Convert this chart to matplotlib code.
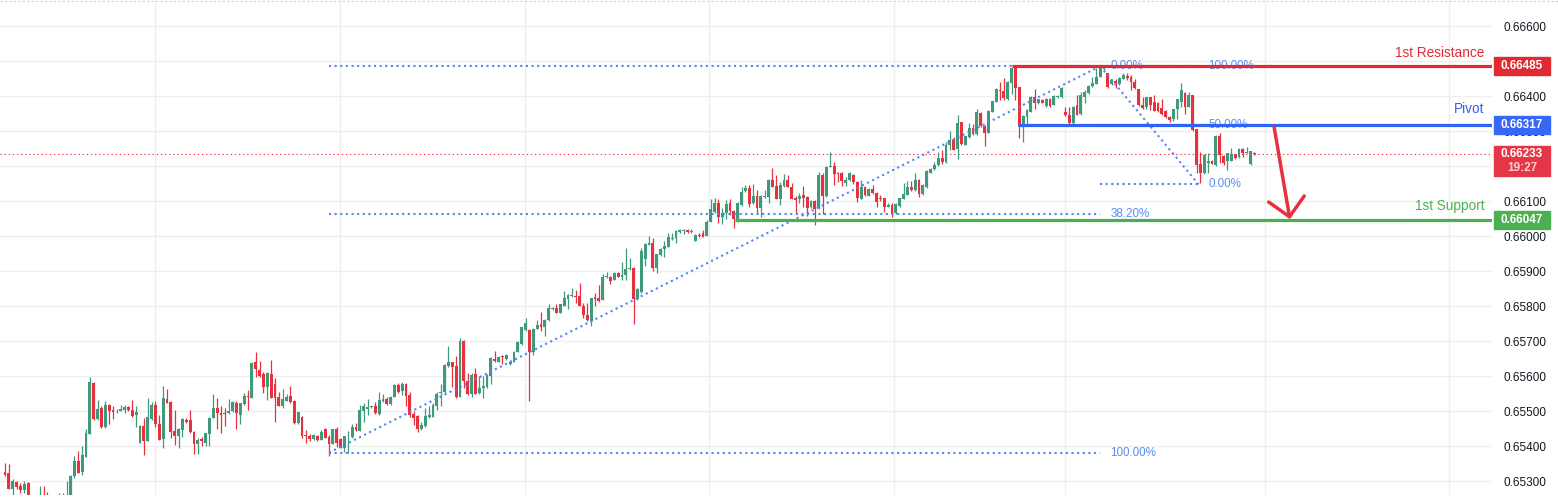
import numpy as np
import matplotlib.pyplot as plt
import matplotlib.transforms as mtransforms
from matplotlib.patches import Rectangle

# AUDUSD-style 15m candles, prices in 1e-5 units
opens = [
    65326, 65323, 65278, 65297, 65286, 65273, 65295, 65256, 65240, 65235,
    65250, 65240, 65232, 65228, 65235, 65245, 65252, 65258, 65314, 65357,
    65327, 65370, 65435, 65581, 65476, 65508, 65453, 65517, 65503, 65499,
    65501, 65503, 65512, 65503, 65489, 65410, 65457, 65415, 65477, 65517,
    65463, 65421, 65534, 65526, 65443, 65430, 65447, 65475, 65475, 65440,
    65407, 65420, 65410, 65435, 65481, 65509, 65495, 65495, 65493, 65500,
    65523, 65490, 65519, 65543, 65538, 65640, 65616, 65607, 65570, 65606,
    65578, 65540, 65515, 65530, 65543, 65529, 65466, 65483, 65431, 65429,
    65420, 65430, 65418, 65449, 65426, 65407, 65448, 65420, 65395, 65426,
    65425, 65454, 65444, 65500, 65505, 65511, 65514, 65492, 65529, 65535,
    65519, 65541, 65574, 65556, 65578, 65547, 65491, 65486, 65449, 65458,
    65482, 65484, 65513, 65551, 65554, 65629, 65639, 65629, 65541, 65700,
    65586, 65549, 65606, 65551, 65565, 65570, 65600, 65648, 65641, 65656,
    65648, 65633, 65641, 65670, 65691, 65732, 65732, 65670, 65735, 65749,
    65741, 65760, 65792, 65793, 65781, 65801, 65821, 65829, 65829, 65829,
    65801, 65775, 65756, 65825, 65823, 65818, 65882, 65884, 65875, 65895,
    65884, 65890, 65905, 65909, 65821, 65840, 65933, 65975, 65980, 65908,
    65946, 65962, 65970, 65991, 65993, 66011, 66014, 66018, 66011, 65987,
    66004, 66009, 66001, 66041, 66069, 66093, 66053, 66066, 66094, 66071,
    66044, 66089, 66128, 66137, 66094, 66114, 66081, 66112, 66112, 66160,
    66143, 66106, 66143, 66160, 66141, 66108, 66106, 66117, 66111, 66083,
    66100, 66080, 66175, 66114, 66198, 66200, 66181, 66179, 66152, 66160,
    66174, 66154, 66106, 66140, 66115, 66134, 66124, 66108, 66108, 66084,
    66088, 66065, 66085, 66106, 66118, 66141, 66131, 66160, 66120, 66139,
    66181, 66191, 66203, 66224, 66211, 66260, 66274, 66249, 66325, 66261,
    66282, 66308, 66291, 66351, 66314, 66295, 66355, 66383, 66417, 66414,
    66391, 66436, 66482, 66425, 66314, 66339, 66355, 66398, 66379, 66389,
    66371, 66392, 66375, 66396, 66396, 66355, 66346, 66322, 66373, 66350,
    66398, 66408, 66429, 66435, 66455, 66477, 66465, 66433, 66444, 66433,
    66450, 66457, 66455, 66441, 66419, 66374, 66370, 66396, 66383, 66379,
    66365, 66358, 66341, 66335, 66362, 66384, 66410, 66370, 66402, 66305,
    66206, 66179, 66209, 66214, 66203, 66286, 66229, 66213, 66214, 66233,
    66225, 66250, 66238, 66205, 66238,
]
highs = [
    65352, 65349, 65305, 65300, 65295, 65300, 65298, 65258, 65250, 65287,
    65287, 65270, 65245, 65250, 65266, 65266, 65301, 65317, 65372, 65386,
    65400, 65449, 65597, 65584, 65532, 65515, 65529, 65520, 65513, 65505,
    65518, 65518, 65514, 65532, 65514, 65460, 65479, 65537, 65527, 65529,
    65489, 65572, 65563, 65528, 65503, 65451, 65479, 65481, 65503, 65442,
    65424, 65426, 65438, 65484, 65549, 65537, 65514, 65509, 65534, 65529,
    65528, 65524, 65551, 65560, 65640, 65669, 65643, 65611, 65611, 65646,
    65594, 65554, 65563, 65549, 65572, 65531, 65498, 65485, 65446, 65435,
    65434, 65432, 65446, 65451, 65431, 65450, 65453, 65422, 65430, 65444,
    65463, 65465, 65516, 65522, 65535, 65515, 65527, 65553, 65548, 65541,
    65543, 65576, 65581, 65584, 65580, 65555, 65499, 65488, 65470, 65508,
    65513, 65524, 65553, 65578, 65634, 65686, 65641, 65656, 65709, 65703,
    65608, 65608, 65624, 65599, 65599, 65606, 65654, 65672, 65657, 65659,
    65662, 65643, 65671, 65699, 65740, 65766, 65734, 65737, 65760, 65783,
    65762, 65805, 65796, 65806, 65807, 65843, 65834, 65851, 65846, 65866,
    65808, 65810, 65824, 65836, 65860, 65892, 65897, 65886, 65897, 65897,
    65927, 65966, 65938, 65911, 65851, 65966, 65979, 66001, 65995, 65950,
    65965, 65986, 66008, 66010, 66016, 66019, 66020, 66020, 66019, 66006,
    66008, 66017, 66046, 66107, 66108, 66107, 66079, 66103, 66107, 66073,
    66096, 66139, 66145, 66145, 66150, 66131, 66116, 66131, 66162, 66194,
    66174, 66155, 66176, 66174, 66152, 66114, 66124, 66143, 66113, 66102,
    66103, 66183, 66179, 66200, 66239, 66211, 66183, 66182, 66169, 66184,
    66176, 66156, 66159, 66142, 66136, 66145, 66125, 66117, 66110, 66093,
    66093, 66093, 66110, 66152, 66158, 66156, 66179, 66162, 66148, 66188,
    66194, 66211, 66239, 66245, 66269, 66301, 66283, 66345, 66327, 66287,
    66323, 66320, 66364, 66353, 66316, 66359, 66387, 66422, 66441, 66451,
    66442, 66481, 66486, 66427, 66345, 66362, 66400, 66419, 66392, 66391,
    66394, 66394, 66403, 66402, 66427, 66370, 66370, 66372, 66403, 66412,
    66417, 66431, 66455, 66479, 66482, 66486, 66467, 66448, 66448, 66453,
    66465, 66465, 66460, 66448, 66421, 66398, 66398, 66398, 66404, 66384,
    66391, 66360, 66343, 66364, 66392, 66438, 66411, 66412, 66404, 66307,
    66241, 66233, 66236, 66216, 66289, 66295, 66231, 66238, 66251, 66235,
    66252, 66252, 66255, 66244, 66240,
]
lows = [
    65313, 65276, 65260, 65277, 65265, 65265, 65246, 65232, 65225, 65228,
    65232, 65222, 65220, 65222, 65230, 65238, 65244, 65250, 65310, 65322,
    65317, 65368, 65434, 65474, 65474, 65451, 65451, 65464, 65477, 65495,
    65499, 65493, 65501, 65484, 65455, 65408, 65374, 65413, 65475, 65454,
    65416, 65393, 65522, 65424, 65404, 65393, 65427, 65465, 65438, 65378,
    65378, 65401, 65401, 65401, 65479, 65448, 65437, 65456, 65491, 65498,
    65450, 65464, 65517, 65504, 65536, 65598, 65598, 65552, 65532, 65536,
    65470, 65513, 65509, 65528, 65524, 65464, 65464, 65423, 65408, 65415,
    65418, 65415, 65416, 65422, 65371, 65405, 65397, 65394, 65382, 65380,
    65423, 65443, 65442, 65470, 65490, 65509, 65492, 65490, 65527, 65517,
    65517, 65539, 65551, 65546, 65513, 65484, 65459, 65440, 65446, 65454,
    65480, 65482, 65502, 65513, 65552, 65627, 65570, 65536, 65540, 65567,
    65546, 65540, 65548, 65549, 65536, 65565, 65576, 65641, 65640, 65635,
    65646, 65631, 65640, 65668, 65689, 65730, 65529, 65660, 65733, 65729,
    65713, 65758, 65789, 65779, 65779, 65799, 65791, 65827, 65810, 65799,
    65765, 65758, 65744, 65801, 65812, 65816, 65880, 65862, 65873, 65882,
    65873, 65873, 65903, 65750, 65818, 65838, 65913, 65973, 65900, 65894,
    65944, 65941, 65968, 65989, 65981, 66009, 66007, 66010, 66009, 65985,
    65998, 65996, 65999, 66039, 66067, 66036, 66033, 66050, 66060, 66024,
    66041, 66087, 66126, 66084, 66091, 66065, 66055, 66110, 66095, 66139,
    66105, 66089, 66141, 66139, 66105, 66065, 66095, 66084, 66057, 66081,
    66032, 66078, 66062, 66112, 66196, 66146, 66155, 66144, 66143, 66158,
    66150, 66098, 66105, 66115, 66113, 66120, 66084, 66101, 66069, 66082,
    66055, 66063, 66084, 66105, 66116, 66129, 66129, 66112, 66118, 66137,
    66179, 66189, 66201, 66207, 66209, 66245, 66245, 66221, 66259, 66259,
    66280, 66289, 66289, 66312, 66257, 66293, 66353, 66382, 66388, 66388,
    66389, 66407, 66390, 66279, 66270, 66314, 66353, 66363, 66377, 66379,
    66368, 66368, 66373, 66394, 66394, 66343, 66314, 66320, 66345, 66345,
    66379, 66406, 66427, 66433, 66453, 66475, 66423, 66431, 66424, 66431,
    66448, 66446, 66417, 66419, 66372, 66362, 66363, 66360, 66356, 66355,
    66347, 66337, 66327, 66329, 66334, 66370, 66349, 66368, 66301, 66179,
    66151, 66177, 66179, 66205, 66200, 66208, 66203, 66189, 66213, 66220,
    66223, 66225, 66236, 66203, 66232,
]
closes = [
    65317, 65278, 65301, 65283, 65273, 65292, 65256, 65240, 65235, 65250,
    65240, 65232, 65228, 65235, 65245, 65252, 65258, 65313, 65357, 65324,
    65374, 65437, 65583, 65476, 65506, 65453, 65517, 65501, 65498, 65501,
    65506, 65512, 65503, 65487, 65497, 65457, 65413, 65483, 65517, 65463,
    65418, 65537, 65524, 65441, 65430, 65449, 65477, 65470, 65441, 65407,
    65418, 65413, 65436, 65481, 65509, 65493, 65489, 65492, 65500, 65527,
    65493, 65522, 65543, 65540, 65637, 65621, 65601, 65569, 65609, 65538,
    65538, 65515, 65534, 65541, 65527, 65466, 65496, 65429, 65428, 65420,
    65432, 65418, 65439, 65424, 65407, 65448, 65409, 65396, 65428, 65427,
    65454, 65445, 65503, 65515, 65512, 65514, 65494, 65532, 65535, 65519,
    65541, 65574, 65555, 65578, 65544, 65490, 65481, 65449, 65461, 65485,
    65489, 65518, 65549, 65555, 65632, 65639, 65627, 65541, 65700, 65586,
    65549, 65603, 65550, 65567, 65572, 65603, 65652, 65643, 65655, 65653,
    65660, 65641, 65669, 65698, 65739, 65752, 65670, 65735, 65746, 65741,
    65760, 65793, 65794, 65781, 65805, 65823, 65832, 65831, 65826, 65801,
    65773, 65760, 65822, 65820, 65815, 65884, 65885, 65872, 65895, 65884,
    65890, 65906, 65909, 65821, 65849, 65956, 65977, 65981, 65910, 65948,
    65963, 65972, 65996, 65993, 66013, 66016, 66016, 66012, 66015, 66004,
    66001, 65998, 66040, 66077, 66094, 66053, 66067, 66091, 66071, 66050,
    66094, 66125, 66137, 66091, 66114, 66081, 66114, 66115, 66160, 66141,
    66106, 66145, 66160, 66141, 66106, 66104, 66115, 66109, 66081, 66100,
    66078, 66173, 66114, 66198, 66200, 66178, 66178, 66158, 66160, 66180,
    66153, 66109, 66140, 66117, 66134, 66122, 66097, 66106, 66084, 66088,
    66063, 66091, 66108, 66121, 66141, 66131, 66160, 66119, 66146, 66186,
    66192, 66204, 66222, 66211, 66260, 66274, 66247, 66323, 66262, 66285,
    66310, 66291, 66353, 66314, 66295, 66357, 66385, 66420, 66414, 66393,
    66440, 66479, 66424, 66314, 66343, 66360, 66398, 66381, 66391, 66381,
    66392, 66371, 66401, 66400, 66422, 66345, 66322, 66370, 66347, 66403,
    66412, 66429, 66438, 66455, 66480, 66480, 66425, 66446, 66436, 66451,
    66460, 66452, 66441, 66422, 66374, 66365, 66396, 66374, 66358, 66358,
    66349, 66339, 66332, 66362, 66391, 66417, 66370, 66402, 66303, 66203,
    66179, 66232, 66213, 66207, 66287, 66232, 66210, 66236, 66233, 66222,
    66250, 66236, 66241, 66242, 66233,
]

# drawn levels
resistance = 0.66485
pivot = 0.66317
support = 0.66047
last_price = 0.66233
last_time = '19:27'
# fib anchors: (bar, price, bar, price)
fib_a = (84, 0.65381, 284, 0.66485)
fib_a_levels = [0.0, 0.382, 1.0]
fib_b = (284, 0.66485, 309.5, 0.66148)
fib_b_levels = [1.0, 0.5, 0.0]
res_start, piv_start, sup_start = 261.2, 262.7, 189.3
arrow_from = (329.1, 0.66311)
arrow_to = (333.2, 0.66048)
vgrid_bars = [38.9, 86.9, 134.9, 182.6, 230.5, 274.9, 326.8, 374.5]
yticks = [0.653, 0.654, 0.655, 0.656, 0.657, 0.658, 0.659, 0.660,
          0.661, 0.662, 0.663, 0.664, 0.665, 0.666]

UP = '#3f9a7b'
DOWN = '#e8313e'
RED = '#e12b33'
BLUE = '#2f62f6'
GREEN = '#4caf50'
FIB = '#4f84f2'
FIBTXT = '#5b8ef0'

plt.rcParams['font.family'] = ['Liberation Sans', 'DejaVu Sans']

o = np.array(opens) / 1e5
h = np.array(highs) / 1e5
l = np.array(lows) / 1e5
c = np.array(closes) / 1e5
x = np.arange(len(c))

W, H = 1558, 501
fig = plt.figure(figsize=(W / 100, H / 100), dpi=100)
ax = fig.add_axes([0, 6 / H, 1492 / W, 495 / H])
ax.set_xlim(-1.3, 385.6)
ax.set_ylim(0.6526, 0.666743)

# faint top border
fig.add_artist(plt.Line2D([0, 1], [0.999, 0.999], color='#cfcfcf', lw=0.8,
                          ls=(0, (2, 2))))

# grid
for yt in yticks:
    ax.axhline(yt, color='#efefef', lw=1, zorder=0)
for vb in vgrid_bars:
    ax.axvline(vb, color='#efefef', lw=1, zorder=0)

# candles
cols = np.where(c >= o, UP, DOWN)
ax.vlines(x, l, h, colors=cols, lw=0.9, zorder=3)
ax.bar(x, np.maximum(np.abs(c - o), 0.000008), bottom=np.minimum(o, c),
       width=0.74, color=cols, lw=0, zorder=3)

dots = dict(color=FIB, lw=1.5, ls=(0, (1, 1.7)), dash_capstyle='butt',
            zorder=4)

# fib A (low -> high)
b0, p0, b1, p1 = fib_a
ax.plot([b0, b1], [p0, p1], **dots)
for lv in fib_a_levels:
    p = p1 - lv * (p1 - p0)
    ax.plot([b0, b1], [p, p], **dots)
    ax.text(b1 + 2.6, p, f'{lv * 100:.2f}%', color=FIBTXT, fontsize=8.4,
            va='center', ha='left', zorder=5)

# fib B (high -> low)
b0, p0, b1, p1 = fib_b
ax.plot([b0, b1], [p0, p1], **dots)
for lv in fib_b_levels:
    p = p1 + lv * (p0 - p1)
    ax.plot([b0, b1], [p, p], **dots)
    ax.text(b1 + 2.6, p, f'{lv * 100:.2f}%', color=FIBTXT, fontsize=8.4,
            va='center', ha='left', zorder=5)

# current price line
ax.axhline(last_price, color='#f23645', lw=0.8, ls=(0, (1.2, 2.5)), zorder=2)

# S/R lines
right = ax.get_xlim()[1]
ax.plot([res_start, right], [resistance] * 2, color=RED, lw=2.3, zorder=6,
        solid_capstyle='butt')
ax.plot([piv_start, right], [pivot] * 2, color=BLUE, lw=2.3, zorder=6,
        solid_capstyle='butt')
ax.plot([sup_start, right], [support] * 2, color=GREEN, lw=2.3, zorder=6,
        solid_capstyle='butt')

lab_x = 383.6
ax.text(lab_x, resistance + 0.00019, '1st Resistance', color=RED,
        fontsize=9.8, ha='right', va='bottom')
ax.text(lab_x, pivot + 0.00025, 'Pivot', color=BLUE, fontsize=9.8,
        ha='right', va='bottom')
ax.text(lab_x, support + 0.00019, '1st Support', color=GREEN, fontsize=9.8,
        ha='right', va='bottom')

# arrow
ax.annotate('', xy=arrow_to, xytext=arrow_from,
            arrowprops=dict(arrowstyle='->,head_length=0.5,head_width=0.5',
                            color='#e8313e', lw=2.5, mutation_scale=26,
                            shrinkA=0, shrinkB=0), zorder=7)

# right price scale
ax.yaxis.tick_right()
ax.set_yticks(yticks)
ax.set_yticklabels([f'{v:.5f}' for v in yticks])
ax.tick_params(axis='y', length=0, pad=8, labelsize=8.5, labelcolor='#131722')
ax.set_xticks([])
for s in ax.spines.values():
    s.set_visible(False)

tr = mtransforms.blended_transform_factory(fig.transFigure, ax.transData)
bx, bw = 1494 / W, 56 / W
ph = 1 / 35000  # one pixel in price


def tag(price, color, text):
    ax.add_patch(Rectangle((bx, price - 9 * ph), bw, 18 * ph, transform=tr,
                           color=color, clip_on=False, zorder=10))
    ax.text(bx + bw / 2, price, text, transform=tr, color='white',
            fontsize=8.5, fontweight='bold', ha='center', va='center',
            zorder=11, clip_on=False)


tag(resistance, '#e12b33', f'{resistance:.5f}')
tag(pivot, '#3768f5', f'{pivot:.5f}')
tag(support, '#4caf50', f'{support:.5f}')

ax.add_patch(Rectangle((bx, last_price - 21.5 * ph), bw, 30 * ph, transform=tr,
                       color='#e63546', clip_on=False, zorder=10))
ax.text(bx + bw / 2, last_price, f'{last_price:.5f}', transform=tr,
        color='white', fontsize=8.5, fontweight='bold', ha='center',
        va='center', zorder=11, clip_on=False)
ax.text(bx + bw / 2, last_price - 14 * ph, last_time, transform=tr,
        color='#fbd0d4', fontsize=8.5, fontweight='bold', ha='center',
        va='center', zorder=11, clip_on=False)

fig.savefig('out.png', dpi=100, facecolor='white')
